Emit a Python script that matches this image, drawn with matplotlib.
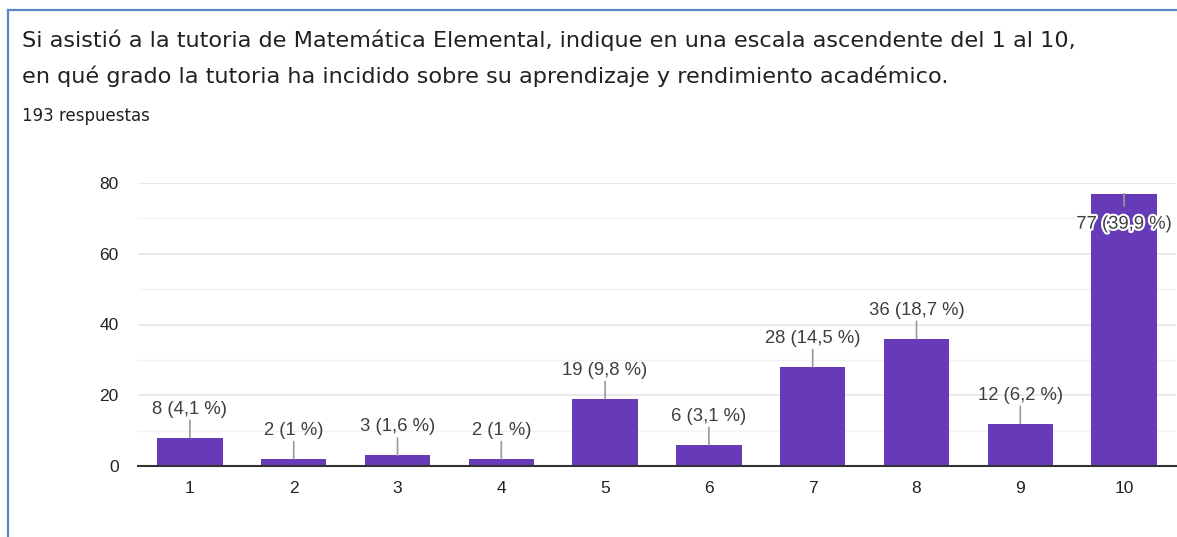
import matplotlib
matplotlib.use("Agg")
import matplotlib.pyplot as plt
import matplotlib.patheffects as pe
from matplotlib.ticker import MultipleLocator

# data
categories = ["1", "2", "3", "4", "5", "6", "7", "8", "9", "10"]
counts = [8, 2, 3, 2, 19, 6, 28, 36, 12, 77]
percents = ["4,1", "1", "1,6", "1", "9,8", "3,1", "14,5", "18,7", "6,2", "39,9"]

title_lines = [
    "Si asistió a la tutoria de Matemática Elemental, indique en una escala ascendente del 1 al 10,",
    "en qué grado la tutoria ha incidido sobre su aprendizaje y rendimiento académico.",
]
subtitle = "193 respuestas"

W, H = 1177, 537
purple = "#673ab7"

fig = plt.figure(figsize=(W / 100, H / 100), dpi=100)
fig.patch.set_facecolor("white")

# card border (left + top only, like the cropped screenshot)
border = "#5b87c7"
fig.add_artist(plt.Line2D([8 / W, 8 / W], [0, 1 - 10 / H], color=border, lw=1.6))
fig.add_artist(plt.Line2D([8 / W, 1], [1 - 10 / H, 1 - 10 / H], color=border, lw=1.6))

fig.text(22 / W, 1 - 40 / H, title_lines[0], fontsize=16.1, family="DejaVu Sans",
         color="#202124", va="center", ha="left")
fig.text(22 / W, 1 - 76 / H, title_lines[1], fontsize=16.1, family="DejaVu Sans",
         color="#202124", va="center", ha="left")
fig.text(22 / W, 1 - 116 / H, subtitle, fontsize=12, family="DejaVu Sans",
         color="#202124", va="center", ha="left")

ax = fig.add_axes([138 / W, (H - 466) / H, (1176 - 138) / W, (466 - 183) / H])
x = list(range(len(categories)))
ax.bar(x, counts, width=0.63, color=purple, zorder=3)

ax.set_xlim(-0.5, len(categories) - 0.5)
ax.set_ylim(0, 80)
ax.yaxis.set_major_locator(MultipleLocator(20))
ax.yaxis.set_minor_locator(MultipleLocator(10))
ax.grid(axis="y", which="major", color="#e6e6e6", lw=1.2, zorder=0)
ax.grid(axis="y", which="minor", color="#f2f2f2", lw=1.0, zorder=0)
ax.set_axisbelow(True)
for side in ["top", "right", "left"]:
    ax.spines[side].set_visible(False)
ax.spines["bottom"].set_color("#333333")
ax.spines["bottom"].set_linewidth(1.5)
ax.spines["bottom"].set_zorder(4)

ax.set_xticks(x)
ax.set_xticklabels(categories)
ax.tick_params(axis="both", which="both", length=0, labelsize=12.5, colors="#222222")
ax.tick_params(axis="x", pad=11)
ax.tick_params(axis="y", pad=14)
for lab in ax.get_xticklabels() + ax.get_yticklabels():
    lab.set_family("Liberation Sans")

for xi, c, p in zip(x, counts, percents):
    label = f"{c} ({p} %)"
    if c > 65:
        # no room above: label goes inside the bar with a short leader
        ax.annotate("", xy=(xi, c), xytext=(0, -9), textcoords="offset points",
                    arrowprops=dict(arrowstyle="-", color="#999999", lw=1.2,
                                    shrinkA=0, shrinkB=0), zorder=5)
        t = ax.annotate(label, xy=(xi, c), xytext=(0, -22), textcoords="offset points",
                        ha="center", va="center", fontsize=13.3, family="Liberation Sans",
                        color="#3c4043", zorder=6)
        t.set_path_effects([pe.withStroke(linewidth=3, foreground="white")])
    else:
        ax.annotate("", xy=(xi, c), xytext=(0, 12.5), textcoords="offset points",
                    arrowprops=dict(arrowstyle="-", color="#999999", lw=1.2,
                                    shrinkA=0, shrinkB=0), zorder=5)
        ax.annotate(label, xy=(xi, c), xytext=(0, 20.5), textcoords="offset points",
                    ha="center", va="center", fontsize=13.3, family="Liberation Sans",
                    color="#3c4043", zorder=6)

fig.savefig("out.png", dpi=100)
